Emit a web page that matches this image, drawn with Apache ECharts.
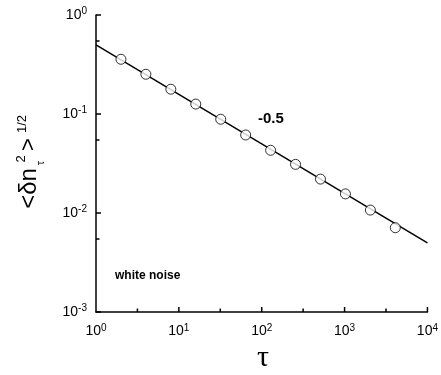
<!DOCTYPE html>
<html>
<head>
<meta charset="utf-8">
<script src="https://cdn.jsdelivr.net/npm/echarts@6/dist/echarts.min.js"></script>
<style>
html,body{margin:0;padding:0;background:#fff;}
#chart{width:441px;height:375px;}
</style>
</head>
<body>
<div id="chart"></div>
<script>
// Data
var tau = [2, 4, 8, 16, 32, 64, 128, 256, 512, 1024, 2048, 4096];
var deltaN = [0.357, 0.252, 0.178, 0.126, 0.0885, 0.0614, 0.0430, 0.0310, 0.0220, 0.0156, 0.0107, 0.0071];
var fitTau = [1, 10000];
var fitValue = [0.5, 0.005];
var xMajorTicks = [10, 100, 1000, 10000];
var xMinorTicks = [3.162, 31.62, 316.2, 3162];
var slopeLabel = '-0.5';
var noteLabel = 'white noise';

var FONT = 'Liberation Sans, Arial, Helvetica, sans-serif';
var Y_MIN = 0.001;

function pow10Label(v) {
  var e = Math.round(Math.log10(v));
  return '{b|10}{s|' + e + '}';
}
function richPow() {
  return {
    b: { fontSize: 14, fontFamily: FONT, color: '#000' },
    s: { fontSize: 10, fontFamily: FONT, color: '#000', padding: [0, 0, 7, 0] }
  };
}

var chart = echarts.init(document.getElementById('chart'), null, { renderer: 'canvas' });

var scatterData = tau.map(function (t, i) { return [t, deltaN[i]]; });
var lineData = fitTau.map(function (t, i) { return [t, fitValue[i]]; });
var tickData = xMajorTicks.map(function (t) { return [t, Y_MIN, 5]; })
  .concat(xMinorTicks.map(function (t) { return [t, Y_MIN, 3.5]; }));

function renderTick(params, api) {
  var p = api.coord([api.value(0), api.value(1)]);
  var len = api.value(2);
  return {
    type: 'line',
    shape: { x1: p[0], y1: p[1], x2: p[0], y2: p[1] - len },
    style: { stroke: '#000', lineWidth: 1.5 }
  };
}

var option = {
  animation: false,
  backgroundColor: '#fff',
  grid: { left: 96, right: 12, top: 15, bottom: 63, containLabel: false },
  xAxis: {
    type: 'log', logBase: 10, min: 1, max: 10000, interval: 1,
    axisLine: { show: true, onZero: false, lineStyle: { color: '#000', width: 1.5 } },
    axisTick: { show: false },
    minorTick: { show: false },
    splitLine: { show: false },
    axisLabel: { formatter: pow10Label, rich: richPow(), margin: 11, interval: 0 }
  },
  yAxis: {
    type: 'log', logBase: 10, min: Y_MIN, max: 1, interval: 1,
    axisLine: { show: true, onZero: false, lineStyle: { color: '#000', width: 1.5 } },
    axisTick: { show: true, inside: true, length: 5, lineStyle: { color: '#000', width: 1.5 } },
    minorTick: { show: true, splitNumber: 2, length: 3.5, lineStyle: { color: '#000', width: 1.5 } },
    splitLine: { show: false },
    axisLabel: { formatter: pow10Label, rich: richPow(), margin: 9 }
  },
  series: [
    { type: 'custom', data: tickData, renderItem: renderTick, clip: false, silent: true, z: 1 },
    { type: 'line', data: lineData, symbol: 'none', lineStyle: { color: '#000', width: 1.5 }, z: 2 },
    { type: 'scatter', data: scatterData, symbol: 'circle', symbolSize: 10,
      itemStyle: { color: '#fff', borderColor: '#000', borderWidth: 1 }, z: 3 }
  ],
  graphic: [
    { type: 'text', left: 258, top: 111, style: { text: slopeLabel, font: 'bold 15px ' + FONT, fill: '#000' } },
    { type: 'text', left: 115, top: 270, style: { text: noteLabel, font: 'bold 12px ' + FONT, fill: '#000' } },
    { type: 'text', x: 263, y: 358, style: { text: 'τ', font: '30px Liberation Serif, Times New Roman, serif', fill: '#000', align: 'center', verticalAlign: 'middle' } },
    { type: 'text', x: 29, y: 188.5, rotation: Math.PI / 2, style: { text: '<δn', font: '24px ' + FONT, fill: '#000', align: 'center', verticalAlign: 'middle' } },
    { type: 'text', x: 41, y: 163, rotation: Math.PI / 2, style: { text: 'τ', font: '11px ' + FONT, fill: '#000', align: 'center', verticalAlign: 'middle' } },
    { type: 'text', x: 21, y: 159, rotation: Math.PI / 2, style: { text: '2', font: '13px ' + FONT, fill: '#000', align: 'center', verticalAlign: 'middle' } },
    { type: 'text', x: 29, y: 144.5, rotation: Math.PI / 2, style: { text: '>', font: '22px ' + FONT, fill: '#000', align: 'center', verticalAlign: 'middle' } },
    { type: 'text', x: 22, y: 124, rotation: Math.PI / 2, style: { text: '1/2', font: '13px ' + FONT, fill: '#000', align: 'center', verticalAlign: 'middle' } }
  ]
};
chart.setOption(option);
</script>
</body>
</html>
